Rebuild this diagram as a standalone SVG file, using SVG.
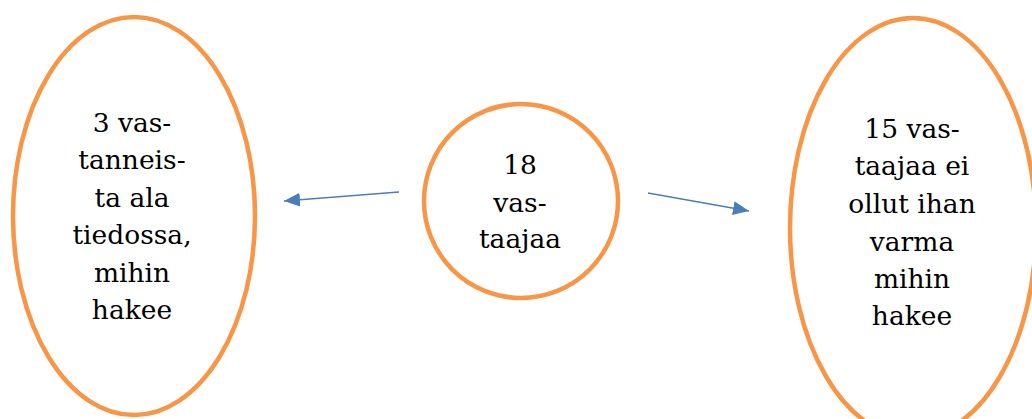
<svg xmlns="http://www.w3.org/2000/svg" width="1032" height="419" viewBox="0 0 1032 419">
<style>
.node{fill:#fff;stroke:#F79646;stroke-width:4.5}
.lbl{font-family:"DejaVu Serif","Liberation Serif",serif;font-size:26.5px;fill:#000;text-anchor:middle}
.conn{stroke:#4A7EBB;stroke-width:1.5;fill:none;marker-end:url(#ah)}
</style>
<defs>
<marker id="ah" viewBox="0 0 16 14" refX="16" refY="7" markerWidth="16" markerHeight="14" markerUnits="userSpaceOnUse" orient="auto">
<path d="M0,0 L16,7 L0,14 Z" fill="#4A7EBB"/>
</marker>
</defs>
<rect width="1032" height="419" fill="#fff"/>
<g id="left">
<ellipse class="node" cx="134" cy="216" rx="121" ry="199"/>
<text class="lbl"><tspan x="132" y="132">3 vas-</tspan><tspan x="132" y="169">tanneis-</tspan><tspan x="132" y="207">ta ala</tspan><tspan x="132" y="244">tiedossa,</tspan><tspan x="132" y="282">mihin</tspan><tspan x="132" y="319">hakee</tspan></text>
</g>
<g id="center">
<circle class="node" cx="521" cy="201" r="97"/>
<text class="lbl"><tspan x="520" y="174">18</tspan><tspan x="520" y="212">vas-</tspan><tspan x="520" y="248">taajaa</tspan></text>
</g>
<g id="right">
<ellipse class="node" cx="913" cy="228" rx="123" ry="210"/>
<text class="lbl"><tspan x="912" y="138">15 vas-</tspan><tspan x="912" y="175">taajaa ei</tspan><tspan x="912" y="213">ollut ihan</tspan><tspan x="912" y="251">varma</tspan><tspan x="912" y="288">mihin</tspan><tspan x="912" y="325">hakee</tspan></text>
</g>
<g id="connectors">
<line class="conn" x1="399" y1="192" x2="284" y2="201"/>
<line class="conn" x1="648" y1="193" x2="749" y2="211"/>
</g>
</svg>
